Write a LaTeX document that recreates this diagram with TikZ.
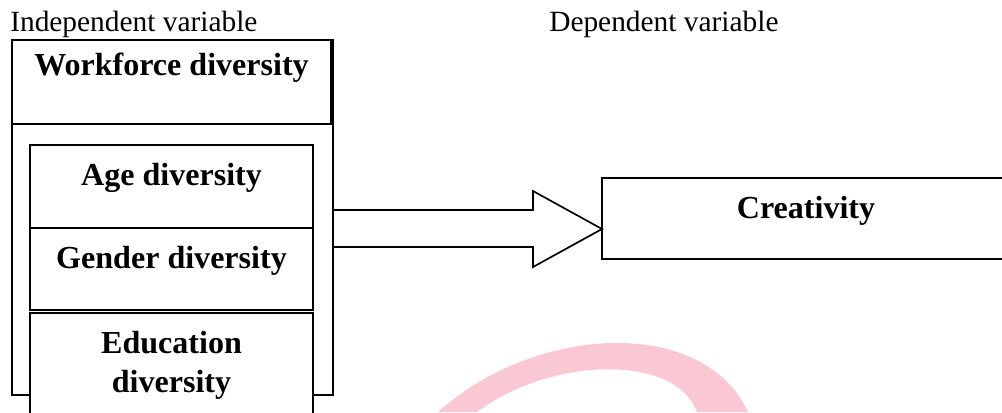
\documentclass[tikz,border=0pt]{standalone}
\usepackage{fontspec}
\setmainfont{Liberation Serif}
\usetikzlibrary{positioning}
\definecolor{markpink}{RGB}{249,200,210}
\tikzset{
  box/.style={draw, line width=1.2pt, rectangle, fill=white, inner sep=0pt, outer sep=0pt, anchor=north west},
  boxtext/.style={font=\fontsize{22.8}{27.7}\selectfont\bfseries, align=center, anchor=base},
  vartext/.style={font=\fontsize{20.9}{24}\selectfont, inner sep=0pt, anchor=base west},
  bigarrow/.style={draw, line width=1.2pt, line join=miter}
}

\begin{document}
\begin{tikzpicture}
            \useasboundingbox (0,0) rectangle (25.05,-10.3);
            \fill[markpink] (10.95,-10.3) .. controls (13.4,-8.1) and (17.6,-7.9) .. (18.7,-10.3) -- (17.425,-10.3) .. controls (16.9,-8.85) and (13.8,-8.9) .. (11.925,-10.3) -- cycle;

            \node[vartext] (indep) at (0.25,-0.79) {Independent variable};
            \node[vartext] (dep) at (13.725,-0.79) {Dependent variable};

            \node[box, minimum width=8.03cm, minimum height=8.875cm] (frame) at (0.3,-1.0) {};
            \node[box, minimum width=7.975cm, minimum height=2.1cm] (head) at (0.3,-1.0) {};
            \node[boxtext] (headtext) at ([yshift=-0.875cm]head.north) {Workforce diversity};

            \node[box, minimum width=7.075cm, minimum height=2.075cm] (age) at (0.75,-3.625) {};
            \node[boxtext] (agetext) at ([yshift=-1cm]age.north) {Age diversity};

            \node[box, minimum width=7.075cm, minimum height=2.05cm, anchor=north, below=0cm of age] (gender) {};
            \node[boxtext] (gendertext) at ([yshift=-1cm]gender.north) {Gender diversity};

            \node[box, minimum width=7.075cm, minimum height=3cm, anchor=north, below=0.075cm of gender] (edu) {};
            \node[boxtext] (edutext) at ([yshift=-1.975cm]edu.north) {Education\\diversity};

            \node[box, minimum width=10.2cm, minimum height=2.025cm] (creat) at (15.05,-4.45) {};
            \node[boxtext] (creattext) at ([yshift=-1cm]creat.north) {Creativity};

            \draw[bigarrow] (frame.east |- 0,-5.25) -- (13.325,-5.25) -- (13.325,-4.775) -- (creat.west |- 0,-5.725) -- (13.325,-6.675) -- (13.325,-6.175) -- (frame.east |- 0,-6.175);
\end{tikzpicture}
\end{document}
